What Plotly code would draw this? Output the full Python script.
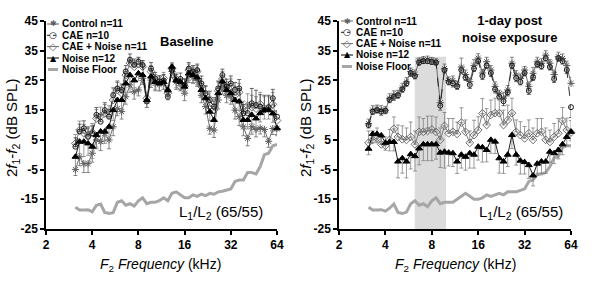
import plotly.graph_objects as go

# ---------------- data ----------------
freqs = [3.11, 3.31, 3.53, 3.76, 4.00, 4.26, 4.54, 4.83, 5.15, 5.48, 5.84, 6.22, 6.62, 7.05, 7.51,
         8.00, 8.52, 9.08, 9.67, 10.29, 10.96, 11.68, 12.44, 13.24, 14.11, 15.02, 16.00, 17.04,
         18.15, 19.33, 20.59, 21.93, 23.35, 24.87, 26.49, 28.21, 30.05, 32.00, 34.09, 36.30,
         38.66, 41.18, 43.85, 46.71, 49.74, 52.98, 56.42, 60.09, 64.00]

x_tickvals = [2, 4, 8, 16, 32, 64]
x_ticktext = ["2", "4", "8", "16", "32", "64"]
y_tickvals = [-25, -15, -5, 5, 15, 25, 35, 45]
y_ticktext = ["-25", "-15", "-5", "5", "15", "25", "35", "45"]

series_names = ["Control n=11", "CAE n=10", "CAE + Noise n=11", "Noise n=12", "Noise Floor"]

# Baseline panel
ctrl_base = [-5, -0.7, -3, -3, 0.5, 5, 4.4, 7.2, 5, 9.4, 15.6, 14.5, 19.5, 23.5, 21.2, 21.8, 25.7, 17.9,
             25.1, 24, 23.5, 24, 21, 28, 24.5, 24, 20.7, 26.8, 26, 25, 20, 16.2, 8.9, 8.3, 18.4, 22.9,
             20, 19.5, 15, 12.8, 9.4, 5.5, 9.4, 8.5, 9, 8.5, 4.5, 8.8, 8.8]
cae_base = [2.7, 7.8, 8.9, 6, 7.2, 13.4, 11.1, 15, 12.8, 20, 22.3, 21.8, 28, 31.9, 30.2, 31.3, 30.2, 18,
            29, 25.7, 24.6, 25, 19.5, 28.5, 25, 25.5, 23.5, 29, 28, 28.5, 24, 20.7, 18.4, 16.2, 22.3,
            26.8, 22.9, 24, 21.8, 22.3, 13.9, 14, 17.3, 16.7, 16.2, 15, 16, 19, 12.8]
caen_base = [3.8, 8.3, 7.2, 6.5, 7.5, 12.2, 13, 13.9, 13.5, 18.4, 21.8, 20.7, 26.8, 30.8, 29.6, 30.5,
             29.6, 19, 28, 25, 24.5, 25.7, 20.7, 29, 25.5, 22.9, 23, 28.5, 27.5, 28, 23, 20, 16.5, 15,
             21.5, 25.5, 22, 23, 20, 21, 14.5, 16.5, 16, 15.5, 17, 15.5, 15.5, 17, 11.5]
noise_base = [-0.7, 4.4, 4.4, 3.8, 2.7, 6.6, 7.8, 7.8, 9.4, 15, 18.4, 18.4, 24, 26.8, 25, 27.4, 26.8,
              18.4, 26.3, 24.5, 24, 24.5, 21.8, 29.6, 25, 24.5, 22.9, 27.4, 26.8, 26, 21.8, 19, 14.5,
              11.7, 20.7, 24.6, 21.8, 20.7, 18.4, 17.9, 11.7, 11.7, 13.4, 12.2, 14, 15, 15, 13.9, 8.9]
floor_base = [-17.7, -18.6, -18.6, -18.5, -19.2, -17, -16.6, -19.4, -19.8, -19.5, -16, -15.5, -17, -16.5,
              -17.3, -15.5, -14.5, -16.5, -16, -16, -15.5, -14.5, -15.5, -13, -12.5, -13.5, -14.5,
              -14.5, -13.5, -14, -13.3, -13.8, -13, -13.3, -12.5, -12.3, -12, -11.5, -9, -8.5, -8.5,
              -6, -6, -6.5, -4, 0, 0.5, 3, 3.5]

ctrl_base_err = [2, 3, 3, 3, 3, 3, 3, 2.5, 3, 3, 2.5, 2.5, 2.5, 2.5, 2.5, 2, 2, 2, 2.5, 2.5, 2, 2, 2.5, 2,
                 2.5, 2.5, 2.5, 2.5, 2, 2, 2.5, 2.5, 2, 2.5, 3, 2.5, 2.5, 2.5, 3, 3, 3, 2.5, 2.5, 2.5, 2,
                 2.5, 2, 2, 2]
cae_base_err = [3, 2.5, 2.5, 3, 2.5, 2.5, 2.5, 2.5, 2.5, 2.5, 2.5, 2, 2, 2, 2, 1.5, 1.5, 2, 2, 2, 2, 2, 2,
                2, 2, 2, 2, 2, 2, 2, 2.5, 2.5, 3, 3, 2.5, 2, 2.5, 2.5, 2.5, 3, 3, 3, 5, 5, 4, 5, 4, 3, 2]
caen_base_err = [3, 3, 3, 3, 3, 3, 3, 3, 3, 2.5, 2.5, 2.5, 2, 2, 2, 2, 2, 2, 2, 2, 2, 2, 2.5, 2, 2, 2.5,
                 2.5, 2, 2, 2, 2.5, 3, 3, 3, 3, 2.5, 2.5, 2.5, 3, 3, 3.5, 4, 4, 4, 4, 4, 4, 4, 3]
noise_base_err = [4, 4, 5, 4, 4, 4, 4, 4, 4, 3.5, 3, 3, 3, 3, 2.5, 2.5, 2.5, 2.5, 2.5, 2.5, 2.5, 2.5, 3,
                  2.5, 2.5, 2.5, 2.5, 2.5, 2.5, 2.5, 2.5, 2.5, 3, 3, 3, 2.5, 2.5, 2.5, 3, 3, 3, 3, 3, 3,
                  3, 3, 3, 3, 2.5]

# 1-day post noise exposure panel
ctrl_post = [10.5, 15, 15.5, 15, 15, 19, 20, 20.5, 22.5, 24.5, 28, 27, 31.5, 32, 32, 31.7, 31.3, 17.5,
             29, 25, 25, 23.5, 29.5, 27, 24.6, 30, 32.5, 27.5, 31.3, 28.5, 23, 20.5, 19, 21.8, 30.8,
             26.8, 25.7, 28.5, 23, 27.4, 31.3, 30.8, 33.5, 30.8, 27, 33, 32.4, 30, 24]
cae_post = [10, 14.5, 15, 14.5, 14.8, 18.5, 19.5, 20, 22, 24, 27.5, 26.5, 31, 31.5, 31.5, 31.2, 31, 16.5,
            28.5, 24.5, 24, 23, 28.5, 26, 23.5, 29, 31.5, 26.5, 30, 27.5, 22, 19.5, 18, 21, 30, 25.8,
            24.5, 27.5, 21.5, 26, 30.5, 29.8, 32.5, 29.5, 25.5, 32.5, 31.5, 28.5, 16]
caen_post = [4, 5, 5.5, 3.5, 3, 5, 8.7, 6, 5.2, 5, 6, 3.5, 7.7, 7.7, 8, 8.5, 7.7, 5, 9.7, 7.2, 7.7, 7,
             10.8, 7.7, 4, 6.6, 8.3, 13.9, 10, 13.4, 14, 14, 10, 11.7, 14, 7.7, 6.6, 5.5, 7.2, 5, 7.2,
             7.7, 5, 4.3, 6, 7.2, 11.4, 8.3, 7.5]
noise_post = [2, 7, 7, 6.5, 4, 4.3, 4.3, -2.3, -1.2, -2.3, 0.2, -0.5, 2.1, 3.5, 3.5, 3.5, 3.5, 0.7, 1,
              0.7, 0.5, -2.3, 0, -0.7, 0.5, 0, 2.7, 2.5, 1.6, 5, 4.4, -1.2, -2.3, 0, 6.6, 0, -2, -2.5,
              -3.5, -7, -3, -2.3, -2.3, 1, 0.5, 1.6, 3.5, 6, 7.7]
floor_post = [-17.7, -18.6, -18.6, -18.5, -19, -18, -16.6, -19.4, -19.8, -19.3, -16.5, -15.5, -17, -16.5,
              -17.5, -15.5, -14.5, -16.5, -16, -16, -16, -15, -14, -13, -14, -15, -15, -14.5, -13.5,
              -14, -13.5, -13, -13.5, -12.5, -12.5, -12.5, -12, -11.5, -9, -8.5, -6.5, -6.5, -6, -4,
              -1, -0.5, 2.5, 3, 3]

ctrl_post_err = [1.5, 1.5, 1.2, 1.5, 1.2, 1.5, 1.5, 1.2, 1.5, 1.5, 1.2, 1.5, 1.0, 1.0, 1.2, 1.0, 1.0, 1.5,
                 1.5, 1.2, 1.5, 1.2, 3.0, 1.5, 1.2, 2.0, 1.5, 1.2, 1.5, 1.5, 1.5, 1.2, 2.0, 1.5, 2.0, 1.5,
                 1.5, 1.2, 1.5, 2.0, 1.5, 1.5, 1.5, 1.2, 1.5, 1.5, 1.5, 1.5, 2.0]
cae_post_err = [1.0, 1.0, 1.0, 1.2, 1.0, 1.0, 1.2, 1.0, 1.0, 1.0, 1.2, 1.0, 0.8, 0.8, 0.8, 0.8, 0.8, 1.5,
                1.0, 1.0, 1.2, 1.0, 1.2, 1.0, 1.2, 1.0, 1.0, 1.2, 1.0, 1.2, 1.2, 1.0, 1.5, 1.2, 1.0, 1.2,
                1.0, 1.0, 1.2, 1.0, 1.2, 1.0, 1.0, 1.0, 1.2, 1.0, 1.0, 1.2, 3.5]
caen_post_err = [4, 3, 3.5, 3, 3, 3.5, 4, 4, 4.5, 4, 5, 4.5, 5, 4.5, 5, 4.5, 5, 4, 4.5, 5, 4.5, 4, 5, 4,
                 4, 5, 4.5, 5, 5.5, 5, 5, 4.5, 5, 5, 5, 4, 4.5, 4, 4.5, 4, 5, 4.5, 4, 4, 4.5, 5, 4.5, 4, 4]
noise_post_err = [2, 3, 3, 3, 2.5, 3, 3, 5.5, 5, 5.5, 5, 5, 5.5, 5.5, 5.5, 5.5, 5, 5, 5.5, 4.5, 4.5, 4,
                  4.5, 4.5, 5, 4.5, 4.5, 5, 4, 4.5, 4, 5, 4, 4, 4.5, 3.5, 4.5, 4, 4.5, 3.5, 4, 4, 4, 3.5,
                  3.5, 3, 3.5, 3, 3]

exposure_band = [6.2, 9.9]   # kHz, shaded octave band
band_top = 33

# ---------------- styling ----------------
NARROW = "Liberation Sans Narrow, Arial Narrow, Liberation Sans, sans-serif"
REG = "Liberation Sans, Arial, sans-serif"

styles = {
    "ctrl": dict(symbol="asterisk-open", color="#5e5e5e", size=6, dash="solid", ecol="#6a6a6a"),
    "cae": dict(symbol="circle-open", color="#1a1a1a", size=5, dash="dash", ecol="#444444"),
    "caen": dict(symbol="diamond-open", color="#6e6e6e", size=6, dash="solid", ecol="#808080"),
    "noise": dict(symbol="triangle-up", color="#000000", size=6, dash="solid", ecol="#808080"),
}

fig = go.Figure()

# shaded band (right panel)
fig.add_trace(go.Scatter(
    x=[exposure_band[0], exposure_band[1], exposure_band[1], exposure_band[0], exposure_band[0]],
    y=[-25, -25, band_top, band_top, -25], fill="toself", fillcolor="#dcdcdc",
    line=dict(width=0), mode="lines", xaxis="x2", yaxis="y2", hoverinfo="skip", showlegend=False))


def add_series(vals, errs, key, direction, xa, ya):
    st = styles[key]
    zeros = [0] * len(errs)
    up = errs if direction == "up" else zeros
    dn = errs if direction == "down" else zeros
    fig.add_trace(go.Scatter(
        x=freqs, y=vals, mode="lines+markers", xaxis=xa, yaxis=ya, showlegend=False,
        cliponaxis=False,
        line=dict(color=st["color"], width=0.9, dash=st["dash"]),
        marker=dict(symbol=st["symbol"], size=st["size"], color=st["color"],
                    line=dict(color=st["color"], width=1)),
        error_y=dict(type="data", symmetric=False, array=up, arrayminus=dn,
                     color=st["ecol"], thickness=0.8, width=2)))


def add_floor(vals, xa, ya):
    fig.add_trace(go.Scatter(x=freqs, y=vals, mode="lines", xaxis=xa, yaxis=ya, showlegend=False,
                             cliponaxis=False, line=dict(color="#a6a6a6", width=3)))


# left panel
add_floor(floor_base, "x", "y")
add_series(ctrl_base, ctrl_base_err, "ctrl", "down", "x", "y")
add_series(caen_base, caen_base_err, "caen", "up", "x", "y")
add_series(cae_base, cae_base_err, "cae", "up", "x", "y")
add_series(noise_base, noise_base_err, "noise", "down", "x", "y")
# right panel
add_floor(floor_post, "x2", "y2")
add_series(ctrl_post, ctrl_post_err, "ctrl", "up", "x2", "y2")
add_series(cae_post, cae_post_err, "cae", "down", "x2", "y2")
add_series(caen_post, caen_post_err, "caen", "up", "x2", "y2")
add_series(noise_post, noise_post_err, "noise", "down", "x2", "y2")

W, H = 600, 283
T, B = 21, 54
PH = H - T - B
dom_left = [46 / W, 277 / W]
dom_right = [339 / W, 571 / W]

xcommon = dict(type="log", range=[0.30103, 1.80618], tickvals=x_tickvals, ticktext=x_ticktext,
               ticks="outside", ticklen=4, tickwidth=1.5, tickcolor="black", showline=True,
               linecolor="black", linewidth=1.5, showgrid=False, zeroline=False, automargin=False,
               tickfont=dict(family=NARROW, size=12, color="black", weight="bold"))
ycommon = dict(range=[-25, 45], tickvals=y_tickvals, ticktext=y_ticktext, ticks="outside", ticklen=4,
               tickwidth=1.5, tickcolor="black", showline=True, linecolor="black", linewidth=1.5,
               showgrid=False, zeroline=False, automargin=False,
               tickfont=dict(family=NARROW, size=12, color="black", weight="bold"))

fig.update_layout(
    width=W, height=H, margin=dict(l=0, r=0, t=T, b=B), paper_bgcolor="white", plot_bgcolor="white",
    xaxis=dict(domain=dom_left, anchor="y", **xcommon),
    yaxis=dict(domain=[0, 1], anchor="x", **ycommon),
    xaxis2=dict(domain=dom_right, anchor="y2", **xcommon),
    yaxis2=dict(domain=[0, 1], anchor="x2", **ycommon),
    showlegend=False,
)


def px_x(px):
    return px / W


def px_y(py):
    return (T + PH - py) / PH


annotations = []
shapes = []


def note(text, cx, cy, font, xanchor="center", angle=0):
    annotations.append(dict(text=text, x=px_x(cx), y=px_y(cy), xref="paper", yref="paper",
                            xanchor=xanchor, yanchor="middle", showarrow=False, textangle=angle,
                            font=font))


# axis titles
xtitle = "<i>F</i><sub>2</sub> <i>Frequency</i> (kHz)"
ytitle = "2<i>f</i><sub>1</sub>-<i>f</i><sub>2</sub> (dB SPL)"
for cx, yx in [(160, 13), (455, 307)]:
    note(xtitle, cx, 265, dict(family=NARROW, size=14, color="black"))
    note(ytitle, yx, 128, dict(family=REG, size=15, color="black"), angle=-90)

# level label
for cx in [221, 521]:
    note("L<sub>1</sub>/L<sub>2</sub> (65/55)", cx, 212, dict(family=NARROW, size=15, color="black"))

# panel titles
note("Baseline", 186, 42, dict(family=NARROW, size=13, color="black", weight="bold"))
note("1-day post<br>noise exposure", 509, 29, dict(family=NARROW, size=13, color="black", weight="bold"))

# custom legends
legend_glyphs = [("✱", "#5e5e5e", 8), ("○", "#1a1a1a", 9), ("◇", "#6e6e6e", 10), ("▲", "#000000", 8),
                 (None, "#a6a6a6", 0)]
for sym_x, txt_x, rows in [(53, 60, [24, 35.3, 46.6, 58, 69.5]), (347, 354, [21, 32.3, 43.6, 55, 66.5])]:
    for (g, col, gs), name, ry in zip(legend_glyphs, series_names, rows):
        if g is None:
            shapes.append(dict(type="line", xref="paper", yref="paper", x0=px_x(sym_x - 5),
                               x1=px_x(sym_x + 5), y0=px_y(ry), y1=px_y(ry),
                               line=dict(color=col, width=3)))
        else:
            shapes.append(dict(type="line", xref="paper", yref="paper", x0=px_x(sym_x - 6),
                               x1=px_x(sym_x + 6), y0=px_y(ry), y1=px_y(ry),
                               line=dict(color=col, width=1,
                                         dash="dot" if name.startswith("CAE n") else "solid")))
            note(g, sym_x, ry, dict(family="DejaVu Sans", size=gs, color=col))
        note(name, txt_x, ry, dict(family=NARROW, size=10, color="black", weight="bold"), xanchor="left")

fig.update_layout(annotations=annotations, shapes=shapes)
fig.write_html("out.html", config={"displayModeBar": False},
               post_script="document.body.style.margin='0px';")
